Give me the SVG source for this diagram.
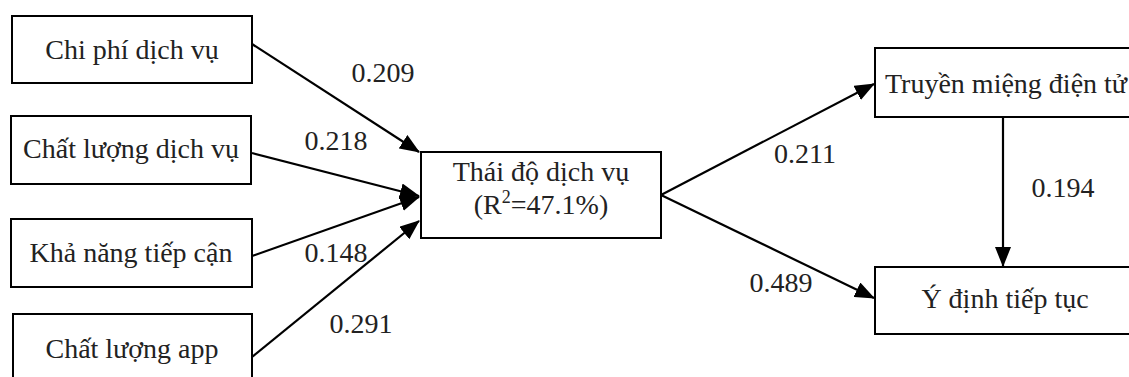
<svg xmlns="http://www.w3.org/2000/svg" width="1129" height="377" viewBox="0 0 1129 377">
<style>
.box{fill:#fff;stroke:#000;stroke-width:2}
.t{font-family:"Liberation Serif","Times New Roman",serif;font-size:28px;fill:#222}
.c{text-anchor:middle}
.e{stroke:#000;stroke-width:2.2;fill:none;marker-end:url(#ah)}
</style>
<defs>
<marker id="ah" markerUnits="userSpaceOnUse" markerWidth="20" markerHeight="16" viewBox="0 0 20 16" refX="19" refY="8" orient="auto">
<path d="M0,0 L20,8 L0,16 Z" fill="#000"/>
</marker>
</defs>
<rect width="1129" height="377" fill="#fff"/>
<g id="n1"><rect class="box" x="12" y="16" width="240" height="67"/><text class="t c" x="132" y="59">Chi phí dịch vụ</text></g>
<g id="n2"><rect class="box" x="11" y="116" width="240" height="68"/><text class="t c" x="131" y="158">Chất lượng dịch vụ</text></g>
<g id="n3"><rect class="box" x="11" y="219" width="241" height="68"/><text class="t c" x="131" y="262">Khả năng tiếp cận</text></g>
<g id="n4"><rect class="box" x="13" y="314" width="239" height="80"/><text class="t c" x="132" y="358">Chất lượng app</text></g>
<g id="n5"><rect class="box" x="421" y="152" width="240" height="86"/><text class="t c" x="541" y="181">Thái độ dịch vụ</text><text class="t c" x="541" y="214">(R<tspan dy="-11" font-size="18">2</tspan><tspan dy="11">=47.1%)</tspan></text></g>
<g id="n6"><rect class="box" x="875" y="48" width="270" height="69"/><text class="t" x="885" y="93">Truyền miệng điện tử</text></g>
<g id="n7"><rect class="box" x="875" y="267" width="270" height="67"/><text class="t c" x="1005" y="308">Ý định tiếp tục</text></g>
<g id="edges">
<line class="e" x1="252" y1="44" x2="419" y2="152"/>
<line class="e" x1="252" y1="153" x2="419" y2="196"/>
<line class="e" x1="252" y1="256" x2="419" y2="197"/>
<line class="e" x1="252" y1="357" x2="419" y2="221"/>
<line class="e" x1="661" y1="195" x2="874" y2="84"/>
<line class="e" x1="661" y1="195" x2="874" y2="298"/>
<line class="e" x1="1003" y1="117" x2="1003" y2="266"/>
<text class="t c" x="383" y="82">0.209</text>
<text class="t c" x="336" y="150">0.218</text>
<text class="t c" x="336" y="262">0.148</text>
<text class="t c" x="361" y="333">0.291</text>
<text class="t c" x="805" y="163">0.211</text>
<text class="t c" x="781" y="292">0.489</text>
<text class="t c" x="1063" y="197">0.194</text>
</g>
</svg>
